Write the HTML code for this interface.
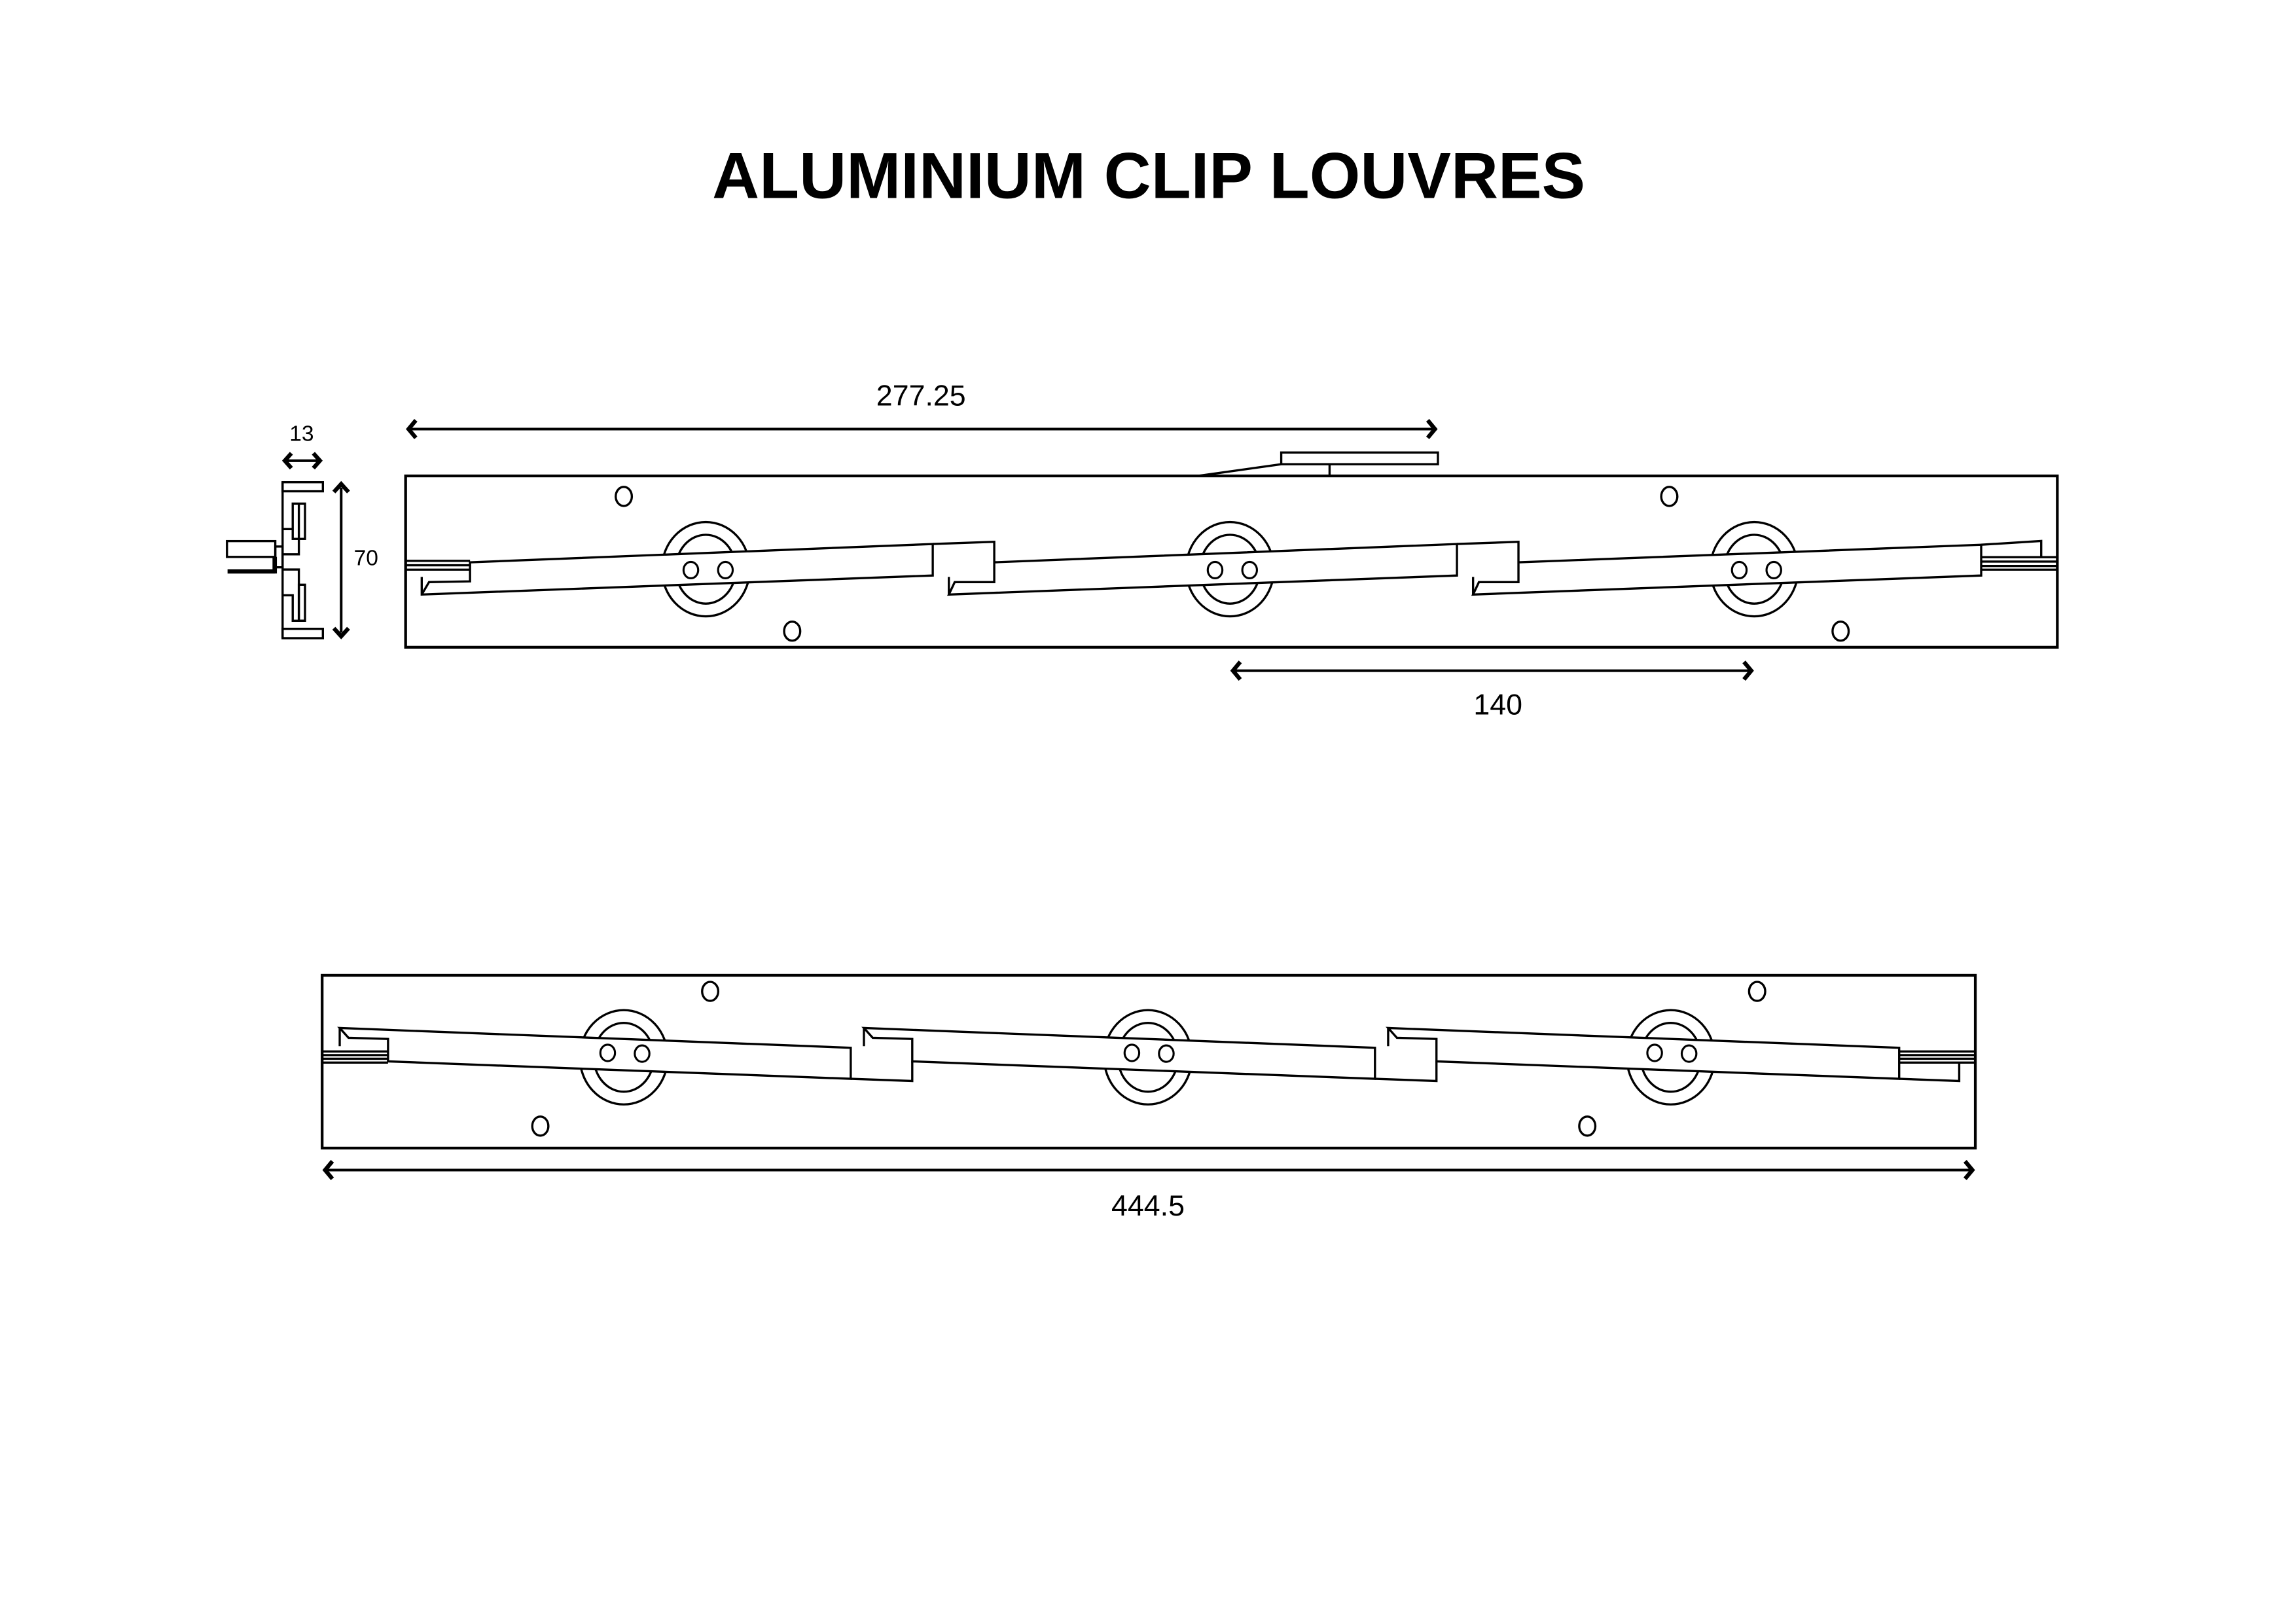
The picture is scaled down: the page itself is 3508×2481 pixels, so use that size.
<!DOCTYPE html>
<html><head><meta charset="utf-8"><style>
html,body{margin:0;padding:0;background:#fff;}
svg{display:block;}
text{font-family:"Liberation Sans",Arial,sans-serif;fill:#000;}
</style></head><body>
<svg width="3508" height="2481" viewBox="0 0 1568 1109" preserveAspectRatio="none" xmlns="http://www.w3.org/2000/svg">
<rect x="0" y="0" width="1568" height="1109" fill="#fff"/>
<text x="784.5" y="135.3" font-size="44.6" font-weight="bold" text-anchor="middle">ALUMINIUM CLIP LOUVRES</text>

<g fill="none" stroke="#000" stroke-linejoin="miter">
<!-- ===== TOP ASSEMBLY ===== -->
<rect x="277" y="325" width="1128" height="117" stroke-width="1.9"/>
<rect x="875" y="309" width="107" height="8" stroke-width="1.5" fill="#fff"/>
<path d="M818 325 L875 317 M908 317 V325" stroke-width="1.5"/>
<g stroke-width="1.5">
<ellipse cx="426" cy="339" rx="5.5" ry="6.5"/>
<ellipse cx="541" cy="431" rx="5.5" ry="6.5"/>
<ellipse cx="1140" cy="339" rx="5.5" ry="6.5"/>
<ellipse cx="1257" cy="431" rx="5.5" ry="6.5"/>
</g>
<g stroke-width="1.5">
<ellipse cx="482" cy="388.7" rx="30" ry="32.2"/><ellipse cx="482" cy="388.7" rx="20.5" ry="23.5"/>
<ellipse cx="840" cy="388.7" rx="30" ry="32.2"/><ellipse cx="840" cy="388.7" rx="20.5" ry="23.5"/>
<ellipse cx="1198" cy="388.7" rx="30" ry="32.2"/><ellipse cx="1198" cy="388.7" rx="20.5" ry="23.5"/>
</g>
<g stroke-width="1.5" fill="#fff">
<path d="M288 394 L288 406 L637 393 L637 371.5 L321 384 L321 397 L293 397.5 L288 406"/>
<path d="M277 383 H321 M277 386 H321 M277 389 H321" fill="none"/>
<path d="M637 371.5 L679 370 L679 397.5 L652 397.5 L648 406 L995 393 L995 371.5 L679 384 M648 406 L648 394"/>
<path d="M995 371.5 L1037 370 L1037 397.5 L1010 397.5 L1006 406 L1353 393 L1353 372 L1037 384 M1006 406 L1006 394"/>
<path d="M1353 372 L1394 369.4 L1394 380.5" fill="none"/>
<path d="M1353 380.5 H1405 M1353 383.5 H1405 M1353 386.5 H1405 M1353 389 H1405" fill="none"/>
</g>
<g stroke-width="1.4">
<ellipse cx="471.8" cy="389.3" rx="5" ry="5.6"/><ellipse cx="495.4" cy="389.3" rx="5" ry="5.6"/>
<ellipse cx="829.8" cy="389.3" rx="5" ry="5.6"/><ellipse cx="853.4" cy="389.3" rx="5" ry="5.6"/>
<ellipse cx="1187.8" cy="389.3" rx="5" ry="5.6"/><ellipse cx="1211.4" cy="389.3" rx="5" ry="5.6"/>
</g>

<!-- section view -->
<g stroke-width="1.5">
<rect x="193" y="329.3" width="27.5" height="6.2"/>
<rect x="193" y="429.4" width="27.5" height="6.4"/>
<path d="M193 329.3 V435.8"/>
<rect x="199.9" y="343.9" width="8.4" height="24.1"/>
<path d="M204.1 343.9 V378.5 H193 M193 361.3 H199.9"/>
<path d="M193 388.9 H204.1 V423.9 M193 406.5 H199.9 V423.9 H208.3"/>
<rect x="204.1" y="399.3" width="4.2" height="24.6"/>
<rect x="155" y="369.5" width="33" height="10.8"/>
<rect x="188" y="373.2" width="5" height="14.2"/>
</g>
<path d="M155.4 390.2 H188 M187.6 380.3 V391.6" stroke-width="3"/>

<!-- dimensions -->
<g stroke-width="1.8">
<path d="M280 293 H979"/>
<path d="M843 458 H1195"/>
<path d="M223 799 H1346"/>
<path d="M195 314.6 H218"/>
<path d="M233 333 V432"/>
</g>
<g stroke-width="2.8">
<path d="M284 287 L279 293 L284 299"/>
<path d="M975 287 L980 293 L975 299"/>
<path d="M847 452 L842 458 L847 464"/>
<path d="M1191 452 L1196 458 L1191 464"/>
<path d="M227 793 L222 799 L227 805"/>
<path d="M1342 793 L1347 799 L1342 805"/>
<path d="M199 309.5 L194.5 314.6 L199 319.7"/>
<path d="M214 309.5 L218.5 314.6 L214 319.7"/>
<path d="M228 336 L233 330.5 L238 336"/>
<path d="M228 429 L233 434.5 L238 429"/>
</g>

<!-- ===== BOTTOM ASSEMBLY ===== -->
<rect x="220" y="666" width="1129" height="118" stroke-width="1.9"/>
<g stroke-width="1.5">
<ellipse cx="485" cy="677" rx="5.5" ry="6.5"/>
<ellipse cx="1200" cy="677" rx="5.5" ry="6.5"/>
<ellipse cx="369" cy="769" rx="5.5" ry="6.5"/>
<ellipse cx="1084" cy="769" rx="5.5" ry="6.5"/>
<ellipse cx="426" cy="722" rx="30" ry="32.2"/><ellipse cx="426" cy="722" rx="20.5" ry="23.5"/>
<ellipse cx="784" cy="722" rx="30" ry="32.2"/><ellipse cx="784" cy="722" rx="20.5" ry="23.5"/>
<ellipse cx="1141" cy="722" rx="30" ry="32.2"/><ellipse cx="1141" cy="722" rx="20.5" ry="23.5"/>
</g>
<g stroke-width="1.5" fill="#fff">
<path d="M232 702 L581 715.5 L581 736.7 L265 724.8 L265 709.5 L238 708.7 Z M232 702 V714.4"/>
<path d="M220 718 H265 M220 720.5 H265 M220 723 H265 M220 725.6 H265" fill="none"/>
<path d="M581 736.7 L623 738.2 L623 724.8" fill="none"/>
<path d="M590 702 L939 715.5 L939 736.7 L623 724.8 L623 709.5 L596 708.7 Z M590 702 V714.4"/>
<path d="M939 736.7 L981 738.2 L981 724.8" fill="none"/>
<path d="M948 702 L1297 715.5 L1297 736.7 L981 724.8 L981 709.5 L954 708.7 Z M948 702 V714.4"/>
<path d="M1297 736.7 L1338 738.2 L1338 725.6" fill="none"/>
<path d="M1297 718 H1349 M1297 720.5 H1349 M1297 723 H1349 M1297 725.6 H1349" fill="none"/>
</g>
<g stroke-width="1.4">
<ellipse cx="415" cy="719" rx="5" ry="5.6"/><ellipse cx="438.5" cy="719.5" rx="5" ry="5.6"/>
<ellipse cx="773" cy="719" rx="5" ry="5.6"/><ellipse cx="796.5" cy="719.5" rx="5" ry="5.6"/>
<ellipse cx="1130" cy="719" rx="5" ry="5.6"/><ellipse cx="1153.5" cy="719.5" rx="5" ry="5.6"/>
</g>
</g>

<text x="629" y="277" font-size="20" text-anchor="middle">277.25</text>
<text x="1023" y="488" font-size="20" text-anchor="middle">140</text>
<text x="784" y="830" font-size="20" text-anchor="middle">444.5</text>
<text x="206" y="301" font-size="15" text-anchor="middle">13</text>
<text x="250" y="386" font-size="15" text-anchor="middle">70</text>
</svg>
</body></html>
